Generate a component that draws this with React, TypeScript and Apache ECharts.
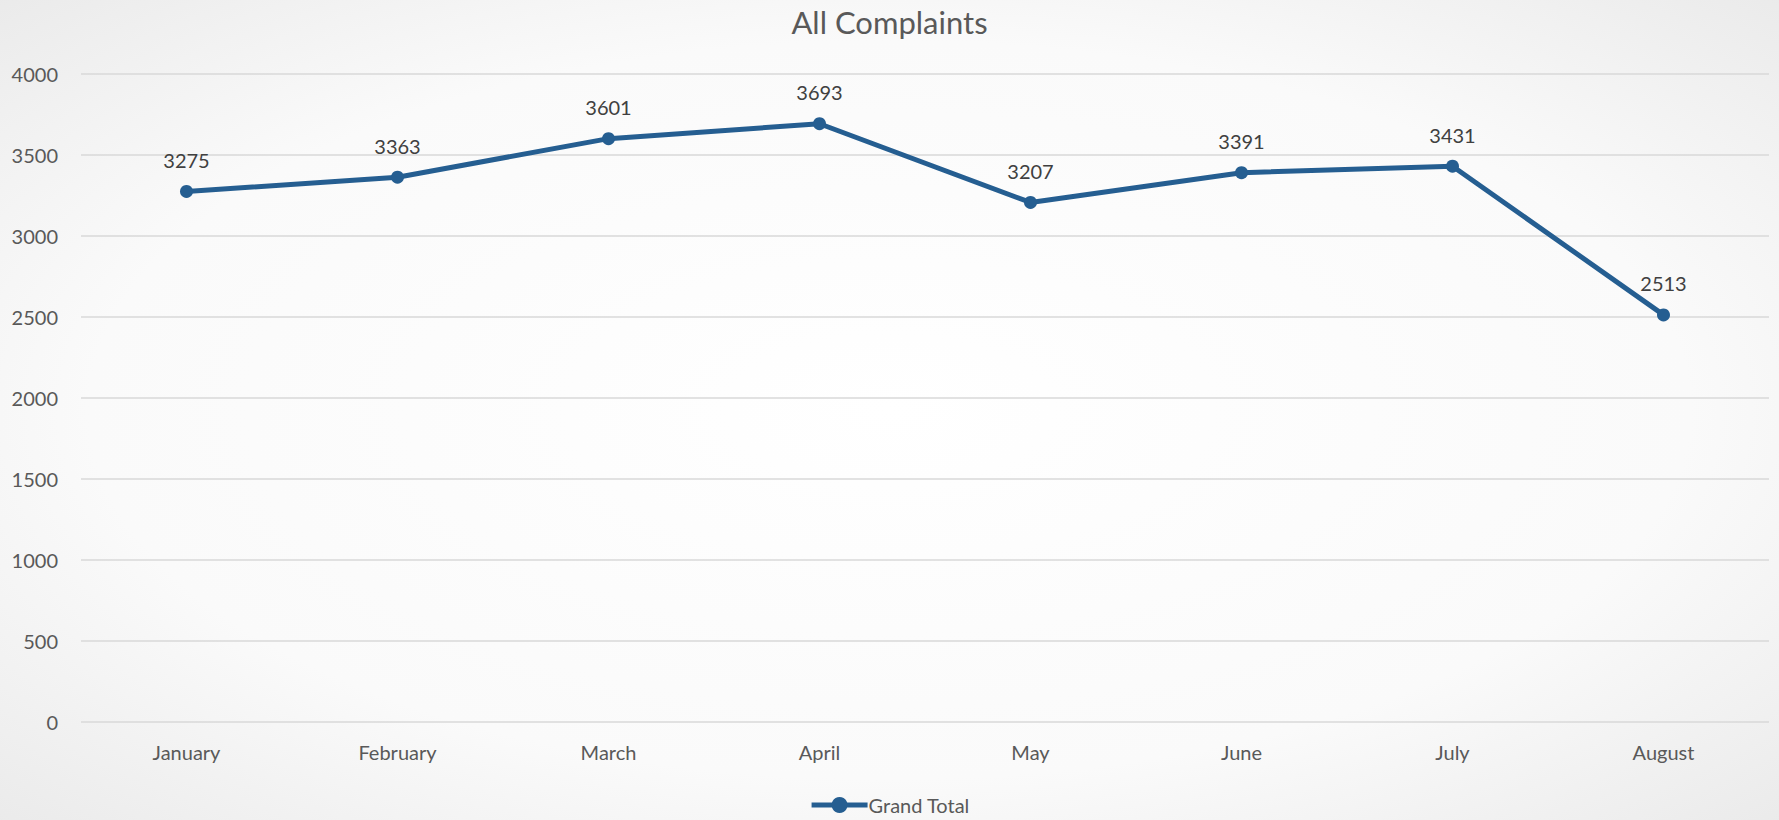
import React, { useEffect, useRef } from "react";
import * as echarts from "echarts";

const months = ["January", "February", "March", "April", "May", "June", "July", "August"];
const grandTotal = [3275, 3363, 3601, 3693, 3207, 3391, 3431, 2513];
const yTicks = { min: 0, max: 4000, interval: 500 };

export default function App() {
  const ref = useRef<HTMLDivElement>(null);
  useEffect(() => {
    document.body.style.margin = "0";
    const chart = echarts.init(ref.current!, null, { renderer: "svg" });
    const font = "Lato, 'Open Sans', sans-serif";
    chart.setOption({
      animation: false,
      backgroundColor: new echarts.graphic.RadialGradient(0.5, 0.5, 0.75, [
        { offset: 0, color: "#ffffff" },
        { offset: 0.6, color: "#fafafa" },
        { offset: 1, color: "#e8e8e8" },
      ]),
      title: {
        text: "All Complaints",
        left: "center",
        top: 1,
        textStyle: { fontFamily: font, fontSize: 31, fontWeight: "normal", color: "#595959" },
      },
      legend: {
        bottom: 0,
        left: "center",
        itemWidth: 56,
        itemHeight: 20,
        itemGap: 4,
        lineStyle: { width: 5, color: "#255e91" },
        textStyle: { fontFamily: font, fontSize: 20, color: "#595959", padding: [0, 0, 0, -4] },
        data: ["Grand Total"],
      },
      grid: { left: 81, right: 10, top: 74, bottom: 98, containLabel: false },
      xAxis: {
        type: "category",
        data: months,
        boundaryGap: true,
        axisLine: { show: false },
        axisTick: { show: false },
        axisLabel: { fontFamily: font, fontSize: 20, color: "#595959", margin: 20 },
      },
      yAxis: {
        type: "value",
        min: yTicks.min,
        max: yTicks.max,
        interval: yTicks.interval,
        axisLine: { show: false },
        axisTick: { show: false },
        axisLabel: {
          fontFamily: font,
          fontSize: 20,
          color: "#595959",
          margin: 23,
          formatter: (v: number) => String(v),
        },
        splitLine: { lineStyle: { color: "#d9d9d9", width: 1.5 } },
      },
      series: [
        {
          name: "Grand Total",
          type: "line",
          data: grandTotal,
          symbol: "circle",
          symbolSize: 13,
          lineStyle: { color: "#255e91", width: 5 },
          itemStyle: { color: "#255e91" },
          label: {
            show: true,
            position: "top",
            distance: 15,
            fontFamily: font,
            fontSize: 20,
            color: "#404040",
          },
        },
      ],
    });
    return () => chart.dispose();
  }, []);
  return <div ref={ref} style={{ position: "absolute", left: 0, top: 0, width: 1779, height: 820 }} />;
}
